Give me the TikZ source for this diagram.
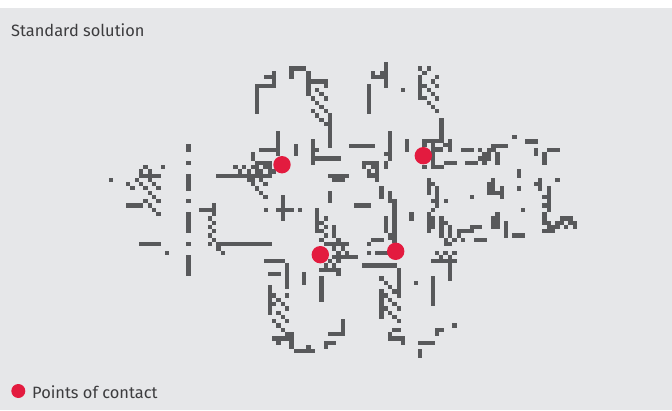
\documentclass[tikz,border=0pt]{standalone}
\usepackage{fontspec}
\setmainfont{Fira Sans}
\usepackage{tikz}
\definecolor{panelgray}{HTML}{E6E7E9}
\definecolor{cellgray}{HTML}{58595B}
\definecolor{contactred}{HTML}{E31B3F}
\definecolor{labelgray}{HTML}{3C3C3E}
\tikzset{
  cell/.style={fill=cellgray},
  contact/.style={fill=contactred},
  label/.style={text=labelgray, font=\fontsize{16.4}{18}\selectfont, anchor=base west, inner sep=0pt}
}
% one crop of the grid: origin in page units, cells in thirds of a unit
\newcommand{\cells}[3]{%
  \begin{scope}[shift={(#1,#2)}, x=0.33333pt, y=-0.33333pt]
    \foreach \xa/\ya/\xb/\yb in {#3}
      \fill[cell] (\xa,\ya) rectangle (\xb,\yb);
  \end{scope}}

\begin{document}
\begin{tikzpicture}[x=1pt, y=-1pt]
  \useasboundingbox (0,0) rectangle (672,410);
  % Panel
  \fill[white] (0,0) rectangle (672,410);
  \fill[panelgray] (0,8) rectangle (672,410);

  % Left wing and upper left lobe
  \cells{100}{60}{
    27/354/39/366,
    129/316/144/328, 183/316/195/328,
    117/328/129/341, 144/328/156/341,
    117/341/183/354,
    105/354/117/366, 144/354/156/366,
    78/366/90/379, 117/366/129/379, 156/366/168/379,
    90/379/105/391, 129/379/144/391, 168/379/183/391,
    258/252/273/276, 258/303/273/315, 258/341/273/391,
    516/33/528/85, 492/46/516/58, 465/72/528/85, 465/72/477/162,
    528/213/540/288, 477/264/540/276, 453/276/465/303,
    465/303/516/316,
    400/316/414/328, 426/316/438/328, 453/316/477/328, 490/316/516/328,
    414/328/426/341, 440/328/453/341, 465/328/490/341, 504/328/528/341,
    348/341/516/354,
    440/354/465/366, 477/354/490/366,
    453/366/465/379, 490/366/503/379,
    465/379/477/391}
  \cells{100}{180}{
    144/33/156/45, 156/45/168/57,
    129/57/144/69, 168/57/183/69,
    78/69/129/83, 144/69/156/83,
    156/83/168/95, 168/95/183/107,
    258/30/273/33, 258/57/273/69, 258/96/273/159, 258/186/273/198, 258/225/273/288,
    117/186/183/198, 195/213/207/225,
    297/83/348/95, 336/69/348/107,
    324/108/336/122, 336/122/348/134, 324/134/336/147, 336/147/348/159,
    324/159/336/173, 336/173/348/186, 324/186/336/198,
    348/186/516/198, 348/198/362/213, 362/213/375/225,
    465/18/477/33, 477/33/490/45, 490/45/503/57,
    492/83/505/96, 528/83/540/96}

  % Upper middle
  \cells{280}{60}{
    27/18/78/33, 27/33/42/57, 78/33/93/108, 93/57/144/72, 132/72/144/84,
    105/84/117/96, 117/96/132/108, 132/108/144/122,
    93/108/105/122, 105/122/117/134, 117/134/132/147, 132/147/144/160,
    93/147/105/160, 105/160/117/173, 117/173/132/186, 132/186/156/198,
    144/160/156/264,
    93/237/105/315, 105/264/117/276, 105/288/183/302,
    42/252/54/288, 207/252/285/264,
    312/6/324/84, 273/33/285/57, 285/45/312/57, 300/33/312/45,
    261/72/273/162, 363/84/375/96,
    324/213/336/303, 312/276/324/288, 312/303/324/327,
    246/303/297/315, 246/315/258/327, 273/315/285/327,
    261/327/273/353, 285/315/297/366, 273/340/285/353,
    144/342/207/354, 156/354/195/366,
    297/378/312/390, 375/237/387/276,
    414/18/426/33, 441/18/453/33,
    426/33/441/45,
    414/45/426/120, 465/45/477/57,
    453/57/465/72,
    426/72/441/84, 465/72/477/84,
    441/84/453/96, 453/96/465/108,
    426/108/441/120, 465/108/477/122,
    441/122/453/134, 453/134/465/147, 465/147/477/160,
    477/173/492/250, 426/237/492/250, 426/250/441/262,
    504/237/516/276, 453/250/465/327, 465/262/490/276, 490/250/504/262,
    465/315/492/327, 492/303/531/315, 426/315/441/327}

  % Right wing
  \cells{420}{120}{
    276/45/291/57, 315/58/354/72, 213/72/264/84,
    123/84/162/96, 175/84/187/96, 200/84/228/96,
    187/96/213/108, 175/108/213/122,
    135/122/175/135, 187/122/200/135,
    225/96/240/135, 342/84/354/108, 381/84/420/96, 366/96/381/135,
    291/147/303/174,
    201/187/225/225, 213/174/225/187, 240/198/252/237, 225/212/252/225,
    291/198/303/213, 405/174/420/186,
    342/186/366/198, 354/174/366/212,
    381/198/393/276, 366/225/393/237, 366/250/381/264,
    150/225/162/237, 303/264/315/276,
    366/276/381/315, 381/302/393/327, 366/327/405/339, 393/315/420/327,
    405/302/420/315, 420/289/458/302, 420/302/432/315, 432/315/444/327,
    444/302/471/315, 459/315/471/327,
    213/289/240/327, 225/276/240/289,
    252/303/264/354, 276/339/315/354, 162/354/201/366,
    21/174/33/225, 33/186/45/198, 45/198/57/264, 33/237/57/250,
    72/237/84/249,
    21/276/33/339, 33/264/45/276, 33/289/45/327,
    57/289/72/354, 72/302/84/315, 84/315/96/354,
    72/354/84/378, 72/366/96/378, 96/354/111/366,
    111/327/123/354, 123/327/162/339, 150/315/186/327, 123/354/135/366}

  % Middle, around the lower contacts
  \cells{280}{180}{
    3/45/15/123, 0/84/42/96, 54/84/66/96,
    144/33/156/69, 222/69/273/84,
    297/18/312/57, 324/33/336/69, 336/57/351/190,
    312/108/324/160, 324/160/336/180,
    387/96/402/123,
    105/84/117/160, 132/108/144/122, 117/122/132/134, 132/134/144/147,
    117/147/132/160, 132/160/144/173,
    156/135/168/173,
    117/173/132/186, 168/173/183/186,
    132/186/207/198,
    156/198/168/212, 183/198/195/212,
    168/212/183/225, 195/212/207/225,
    156/225/234/237,
    144/237/156/250, 168/237/183/250,
    132/250/144/263, 156/250/168/263,
    117/263/183/276, 168/276/183/288, 117/288/132/300,
    261/186/273/198, 273/174/312/186, 261/213/273/225, 285/213/325/225,
    246/249/351/264, 351/264/363/300,
    297/288/312/300, 66/276/78/300,
    465/213/477/225, 490/213/503/225, 516/213/531/225,
    453/237/531/249, 477/225/490/237, 504/225/516/237,
    504/249/516/300, 453/288/465/300}

  % Lower lobes
  \cells{250}{255}{
    42/12/105/24, 105/24/117/102, 54/51/93/63, 156/51/168/90,
    207/63/222/141, 105/114/117/128,
    54/90/66/180, 66/114/78/128, 78/128/93/141, 66/141/78/153, 93/141/105/153,
    105/153/117/167, 78/167/93/180, 93/180/105/192,
    66/192/78/204, 105/192/117/204, 78/204/93/218, 93/218/105/231,
    105/231/132/243, 66/243/132/257, 78/257/93/270, 117/257/132/282,
    132/282/195/294, 168/270/183/282,
    273/192/285/243, 234/231/285/243, 222/258/258/270, 222/270/234/282,
    336/24/441/39, 441/39/453/129,
    387/63/402/77, 402/77/414/90, 414/90/426/102, 426/102/441/116,
    387/102/402/192, 402/114/414/128, 414/128/426/141, 426/141/441/153, 441/153/453/167,
    402/153/414/167, 414/167/426/180, 426/180/441/192, 441/192/453/204,
    492/77/504/90,
    426/219/453/231, 414/231/426/258, 426/243/465/258, 453/258/465/270,
    543/63/555/153, 594/24/606/78,
    606/204/621/219, 555/219/582/231, 555/231/567/243,
    504/258/555/270, 504/282/516/309}

  % Points of contact
  \fill[contact] (282,164.7) circle (8.7);
  \fill[contact] (423.3,155.7) circle (8.7);
  \fill[contact] (320.3,254.7) circle (8.7);
  \fill[contact] (395.7,251.3) circle (8.7);

  % Labels
  \node[label] (title) at (11,36) {Standard solution};
  \fill[contact] (18.3,391) circle (7);
  \node[label] (legend) at (32,398) {Points of contact};
\end{tikzpicture}
\end{document}
